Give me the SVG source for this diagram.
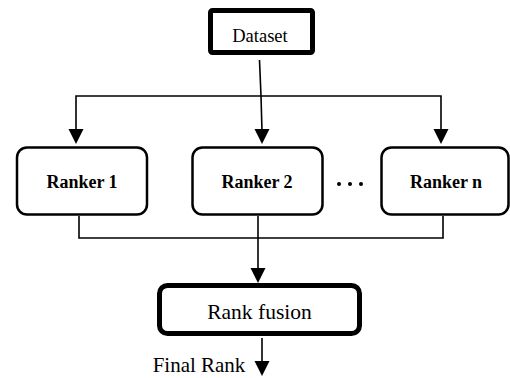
<svg xmlns="http://www.w3.org/2000/svg" width="510" height="378" viewBox="0 0 510 378">
<style>
.box{fill:#fff;stroke:#000;stroke-width:2.5}
.thick{fill:#fff;stroke:#000;stroke-width:5}
.ln{fill:none;stroke:#000;stroke-width:1.6}
.t{font-family:"Liberation Serif","Times New Roman",serif;fill:#000;text-anchor:middle}
.b{font-weight:bold;font-size:18px}
.ah{fill:#000}
</style>
<rect width="510" height="378" fill="#fff"/>
<g id="connectors">
<path class="ln" d="M259.5,60 L261,96 L262,131"/>
<path class="ln" d="M76,131 V96 H441 V131"/>
<polygon class="ah" points="68.5,129 83.5,129 76,144"/>
<polygon class="ah" points="254.5,129 269.5,129 262,144"/>
<polygon class="ah" points="433.5,129 448.5,129 441,144"/>
<path class="ln" d="M79,216 V238 H443 V216"/>
<path class="ln" d="M258,216 V270"/>
<polygon class="ah" points="250.5,268 265.5,268 258,283"/>
<path class="ln" d="M262,338 V363"/>
<polygon class="ah" points="254.5,361 269.5,361 262,376"/>
</g>
<g id="dataset">
<rect class="thick" x="210.5" y="10.5" width="102" height="42" rx="2"/>
<text class="t" x="260" y="42" font-size="18.5">Dataset</text>
</g>
<g id="ranker1">
<rect class="box" x="17" y="147.5" width="130" height="67" rx="10"/>
<text class="t b" x="82" y="188">Ranker 1</text>
</g>
<g id="ranker2">
<rect class="box" x="192.5" y="147.5" width="130" height="67" rx="10"/>
<text class="t b" x="257" y="188">Ranker 2</text>
</g>
<g id="dots">
<circle cx="339" cy="184" r="2"/>
<circle cx="350" cy="184" r="2"/>
<circle cx="361" cy="184" r="2"/>
</g>
<g id="rankern">
<rect class="box" x="381.5" y="147.5" width="127" height="67" rx="10"/>
<text class="t b" x="446" y="188">Ranker n</text>
</g>
<g id="rankfusion">
<rect class="thick" x="159.5" y="285.5" width="200" height="48" rx="8"/>
<text class="t" x="259.5" y="319" font-size="21.5">Rank fusion</text>
</g>
<g id="finalrank">
<text class="t" x="199" y="372" font-size="21">Final Rank</text>
</g>
</svg>
